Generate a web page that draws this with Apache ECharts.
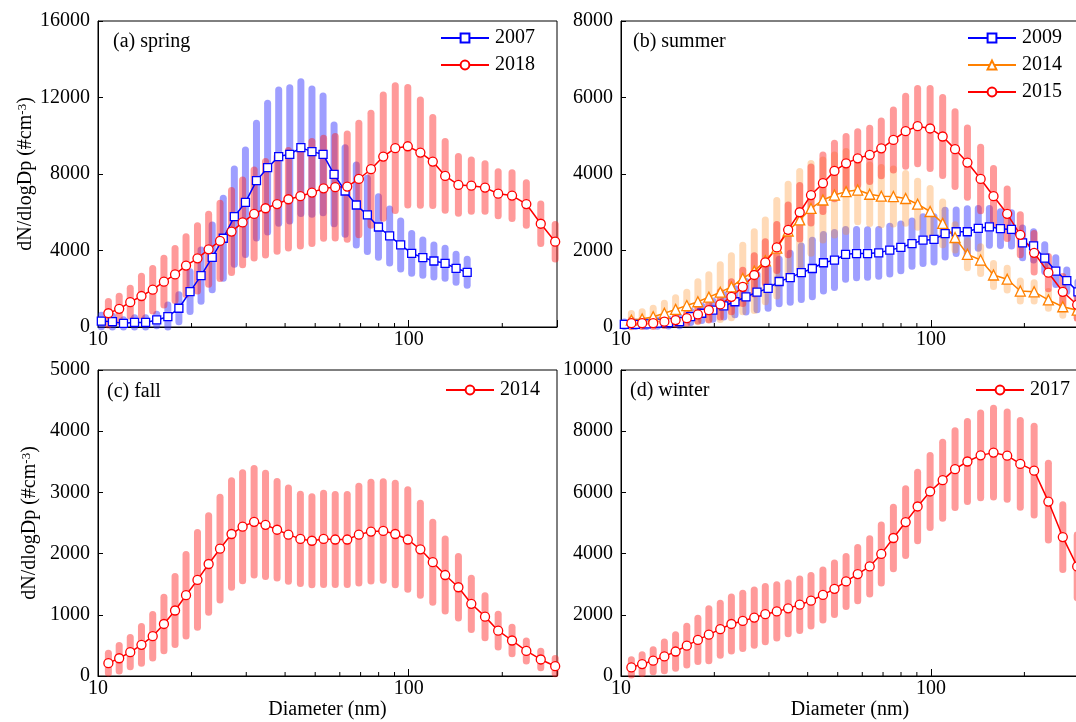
<!DOCTYPE html>
<html>
<head>
<meta charset="utf-8">
<script src="https://cdn.jsdelivr.net/npm/echarts@6/dist/echarts.min.js"></script>
<style>
  html, body { margin: 0; padding: 0; background: #fff; }
  #chart { width: 1076px; height: 722px; }
</style>
</head>
<body>
<div id="chart"></div>
<script>
// size bins (nm), two instrument setups
const binsA = [10.8, 11.7, 12.7, 13.8, 15.0, 16.3, 17.7, 19.2, 20.9, 22.7, 24.7, 26.9, 29.2, 31.8, 34.6, 37.7, 41.0, 44.8, 48.8, 53.2,
  58.0, 63.4, 69.1, 75.6, 82.8, 90.5, 99.3, 109, 119.5, 131, 144.5, 159, 176, 194, 215, 239, 266, 296];
const binsB = [10.25, 11.13, 12.08, 13.11, 14.23, 15.45, 16.78, 18.21, 19.78, 21.46, 23.31, 25.3, 27.46, 29.82, 32.36, 35.14, 38.15,
  41.41, 44.97, 48.81, 53.0, 57.5, 62.4, 67.8, 73.6, 79.9, 86.8, 94.2, 102.2, 111.0, 120.5, 130.9, 142.0, 154.2, 167.4, 181.7,
  197.3, 214.1, 232.6, 252.5, 274.0, 297.6];
const minorTicks = [20, 30, 40, 50, 60, 70, 80, 90, 200];

// (a) spring
const spring2007 = [310, 280, 190, 240, 240, 370, 540, 980, 1850, 2690, 3640, 4640, 5770, 6520, 7650, 8330, 8910, 9030, 9380, 9170,
  9030, 7980, 7110, 6380, 5860, 5230, 4760, 4290, 3850, 3630, 3450, 3330, 3070, 2860];
const spring2007Sd = [300, 280, 190, 240, 240, 300, 610, 700, 1045, 1340, 1690, 2090, 2490, 2735, 3000, 3365, 3485, 3485, 3450, 3275,
  3050, 2580, 2265, 2090, 1915, 1585, 1410, 1255, 1045, 925, 835, 785, 730, 680];
const spring2018 = [720, 950, 1300, 1620, 1950, 2370, 2750, 3210, 3590, 4060, 4500, 4990, 5470, 5910, 6210, 6430, 6680, 6840, 7030, 7250,
  7310, 7340, 7740, 8250, 8910, 9350, 9450, 9120, 8650, 7900, 7430, 7390, 7290, 6970, 6870, 6430, 5400, 4460];
const spring2018Sd = [610, 660, 730, 1030, 1115, 1220, 1360, 1515, 1710, 1830, 1970, 2145, 2215, 2300, 2440, 2475, 2550, 2600, 2670, 2615,
  2650, 2750, 2910, 2930, 3225, 3260, 3070, 2750, 2300, 1795, 1480, 1340, 1240, 1150, 1200, 1115, 1030, 905];

// (b) summer
const summer2009 = [70, 70, 80, 100, 115, 140, 270, 360, 440, 550, 660, 790, 910, 1010, 1190, 1290, 1420, 1530, 1680, 1750, 1900,
  1920, 1920, 1940, 2010, 2080, 2180, 2270, 2290, 2440, 2490, 2490, 2580, 2620, 2570, 2550, 2200, 2120, 1800, 1460, 1210, 920];
const summer2009Sd = [60, 60, 70, 80, 90, 110, 150, 190, 240, 290, 340, 400, 460, 520, 580, 640, 700, 740, 740, 720, 650,
  630, 620, 610, 625, 610, 590, 610, 590, 610, 570, 600, 520, 480, 440, 435, 390, 370, 350, 350, 280, 260];
const summer2014 = [180, 210, 270, 360, 460, 560, 660, 780, 910, 1050, 1270, 1460, 1730, 2060, 2510, 2800, 3100, 3320, 3450, 3540,
  3580, 3470, 3420, 3410, 3360, 3210, 3020, 2710, 2340, 1900, 1750, 1360, 1250, 940, 920, 710, 530, 440];
const summer2014Sd = [175, 190, 220, 260, 305, 350, 520, 585, 715, 810, 870, 1030, 1070, 1250, 1220, 1265, 1175, 1045, 1045, 1045,
  830, 765, 750, 720, 650, 600, 600, 560, 330, 350, 350, 300, 285, 260, 240, 220, 220, 200];
const summer2015 = [100, 100, 100, 140, 180, 230, 330, 440, 590, 790, 1050, 1360, 1690, 2080, 2540, 3000, 3450, 3760, 4080, 4280,
  4410, 4500, 4670, 4890, 5120, 5250, 5190, 4980, 4650, 4300, 3870, 3420, 2960, 2410, 1940, 1420, 920, 580];
const summer2015Sd = [90, 90, 90, 100, 110, 130, 175, 260, 330, 390, 435, 500, 540, 600, 650, 700, 730, 740, 725, 700,
  697, 697, 715, 785, 915, 985, 1045, 1020, 975, 905, 828, 723, 645, 523, 505, 420, 400, 350];

// (c) fall
const fall2014 = [210, 290, 390, 510, 650, 850, 1070, 1320, 1570, 1830, 2080, 2320, 2440, 2520, 2470, 2390, 2310, 2240, 2210, 2240,
  2230, 2230, 2310, 2360, 2370, 2320, 2230, 2070, 1860, 1650, 1450, 1180, 970, 740, 580, 410, 270, 160];
const fall2014Sd = [163, 207, 240, 300, 354, 436, 556, 665, 773, 790, 839, 871, 882, 871, 844, 790, 763, 730, 719, 746,
  735, 735, 790, 806, 806, 828, 812, 752, 654, 588, 501, 419, 343, 267, 218, 163, 136, 125];

// (d) winter
const winter2017 = [280, 390, 500, 640, 800, 990, 1180, 1350, 1530, 1700, 1800, 1910, 2020, 2110, 2210, 2330, 2460, 2650, 2850, 3090,
  3330, 3580, 3990, 4510, 5030, 5540, 6030, 6400, 6760, 7010, 7210, 7300, 7200, 6930, 6710, 5700, 4540, 3580];
const winter2017Sd = [250, 305, 360, 468, 545, 632, 708, 850, 850, 882, 904, 904, 904, 871, 828, 839, 828, 817, 839, 817,
  871, 904, 947, 1002, 1089, 1122, 1176, 1241, 1252, 1307, 1383, 1448, 1427, 1416, 1448, 1252, 1056, 1030];

const FONT = '"Liberation Serif", "Times New Roman", serif';
const RED = '#ff0000', BLUE = '#0000ff', ORANGE = '#ff8000';

const chart = echarts.init(document.getElementById('chart'));

function pairs(xs, ys) {
  return ys.map((y, i) => [xs[i], y]);
}

// mean +/- sd shown as thick translucent bars
function barSeries(idx, xs, ys, sd, color) {
  return {
    type: 'custom',
    xAxisIndex: idx,
    yAxisIndex: idx,
    silent: true,
    data: ys.map((y, i) => [xs[i], Math.max(0, y - sd[i]), y + sd[i]]),
    encode: { x: 0, y: [1, 2] },
    renderItem: (params, api) => {
      const a = api.coord([api.value(0), api.value(1)]);
      const b = api.coord([api.value(0), api.value(2)]);
      return {
        type: 'line',
        shape: { x1: a[0], y1: a[1], x2: b[0], y2: b[1] },
        style: { stroke: color, lineWidth: 7, lineCap: 'round' }
      };
    }
  };
}

function lineSeries(name, idx, xs, ys, color, symbol, size) {
  return {
    type: 'line',
    name: name,
    xAxisIndex: idx,
    yAxisIndex: idx,
    data: pairs(xs, ys),
    symbol: symbol,
    symbolSize: size,
    showAllSymbol: true,
    z: 5,
    lineStyle: { color: color, width: 1.5 },
    itemStyle: { color: '#fff', borderColor: color, borderWidth: 1.3 }
  };
}

function minorTickSeries(idx) {
  return {
    type: 'custom',
    xAxisIndex: idx,
    yAxisIndex: idx,
    silent: true,
    z: 10,
    data: minorTicks.map(v => [v, 0]),
    renderItem: (params, api) => {
      const p = api.coord([api.value(0), 0]);
      return {
        type: 'line',
        shape: { x1: p[0], y1: p[1], x2: p[0], y2: p[1] - 4 },
        style: { stroke: '#000', lineWidth: 1 }
      };
    }
  };
}

const grids = [
  { left: 98, top: 21, width: 459, height: 306 },
  { left: 621, top: 21, width: 458, height: 306 },
  { left: 98, top: 370, width: 459, height: 306 },
  { left: 621, top: 370, width: 458, height: 306 }
].map(g => Object.assign(g, { show: true, borderColor: '#000', borderWidth: 1, outerBoundsMode: 'none' }));

const yMax = [16000, 8000, 5000, 10000];
const yStep = [4000, 2000, 1000, 2000];

const xAxes = [0, 1, 2, 3].map(i => ({
  type: 'log',
  logBase: 10,
  gridIndex: i,
  min: 10,
  max: 300,
  name: i >= 2 ? 'Diameter (nm)' : '',
  nameLocation: 'middle',
  nameGap: 24,
  nameTextStyle: { fontFamily: FONT, fontSize: 20, color: '#000' },
  axisLine: { lineStyle: { color: '#000', width: 1 } },
  axisTick: { inside: true, length: 7, lineStyle: { color: '#000' } },
  axisLabel: {
    fontFamily: FONT, fontSize: 20, color: '#000', margin: 3,
    formatter: v => {
      const r = Math.round(v);
      return (r === 10 || r === 100) ? String(r) : '';
    }
  },
  splitLine: { show: false }
}));

const yAxes = [0, 1, 2, 3].map(i => ({
  type: 'value',
  gridIndex: i,
  min: 0,
  max: yMax[i],
  interval: yStep[i],
  name: (i === 0 || i === 2) ? '{t|dN/dlogDp (#cm}{s|-3}{t|)}' : '',
  nameLocation: 'middle',
  nameRotate: 90,
  nameGap: 58,
  nameTextStyle: {
    rich: {
      t: { fontFamily: FONT, fontSize: 20, color: '#000' },
      s: { fontFamily: FONT, fontSize: 13, color: '#000', verticalAlign: 'top', lineHeight: 13 }
    }
  },
  axisLine: { show: true, lineStyle: { color: '#000', width: 1 } },
  axisTick: { show: true, inside: true, length: 5, lineStyle: { color: '#000' } },
  axisLabel: { fontFamily: FONT, fontSize: 20, color: '#000', margin: 8, formatter: v => String(v) },
  splitLine: { show: false }
}));

const panelLabel = (text, left, top) => ({
  text: text, left: left, top: top, padding: 0,
  textStyle: { fontFamily: FONT, fontSize: 20, fontWeight: 'normal', color: '#000' }
});

const legendBox = (names, left, top) => ({
  data: names,
  left: left,
  top: top,
  orient: 'vertical',
  padding: 0,
  itemWidth: 48,
  itemHeight: 11,
  itemGap: 7,
  selectedMode: false,
  formatter: n => n.split(' ')[1],
  textStyle: { fontFamily: FONT, fontSize: 20, color: '#000', padding: [0, 0, 0, 1] }
});

const option = {
  animation: false,
  backgroundColor: '#fff',
  grid: grids,
  xAxis: xAxes,
  yAxis: yAxes,
  title: [
    panelLabel('(a) spring', 113, 32),
    panelLabel('(b) summer', 633, 32),
    panelLabel('(c) fall', 107, 382),
    panelLabel('(d) winter', 630, 381)
  ],
  legend: [
    legendBox(['spring 2007', 'spring 2018'], 440, 28),
    legendBox(['summer 2009', 'summer 2014', 'summer 2015'], 967, 28),
    legendBox(['fall 2014'], 445, 380),
    legendBox(['winter 2017'], 975, 380)
  ],
  series: [
    barSeries(0, binsB, spring2007, spring2007Sd, 'rgba(40,40,255,0.45)'),
    barSeries(0, binsA, spring2018, spring2018Sd, 'rgba(255,30,30,0.45)'),
    barSeries(1, binsB, summer2009, summer2009Sd, 'rgba(40,40,255,0.45)'),
    barSeries(1, binsA, summer2014, summer2014Sd, 'rgba(255,140,30,0.32)'),
    barSeries(1, binsA, summer2015, summer2015Sd, 'rgba(255,30,30,0.45)'),
    barSeries(2, binsA, fall2014, fall2014Sd, 'rgba(255,30,30,0.45)'),
    barSeries(3, binsA, winter2017, winter2017Sd, 'rgba(255,30,30,0.45)'),
    lineSeries('spring 2007', 0, binsB, spring2007, BLUE, 'rect', 8),
    lineSeries('spring 2018', 0, binsA, spring2018, RED, 'circle', 9),
    lineSeries('summer 2009', 1, binsB, summer2009, BLUE, 'rect', 8),
    lineSeries('summer 2014', 1, binsA, summer2014, ORANGE, 'triangle', 10),
    lineSeries('summer 2015', 1, binsA, summer2015, RED, 'circle', 9),
    lineSeries('fall 2014', 2, binsA, fall2014, RED, 'circle', 9),
    lineSeries('winter 2017', 3, binsA, winter2017, RED, 'circle', 9),
    minorTickSeries(0),
    minorTickSeries(1),
    minorTickSeries(2),
    minorTickSeries(3)
  ]
};

chart.setOption(option);
window.addEventListener('resize', () => chart.resize());
</script>
</body>
</html>
